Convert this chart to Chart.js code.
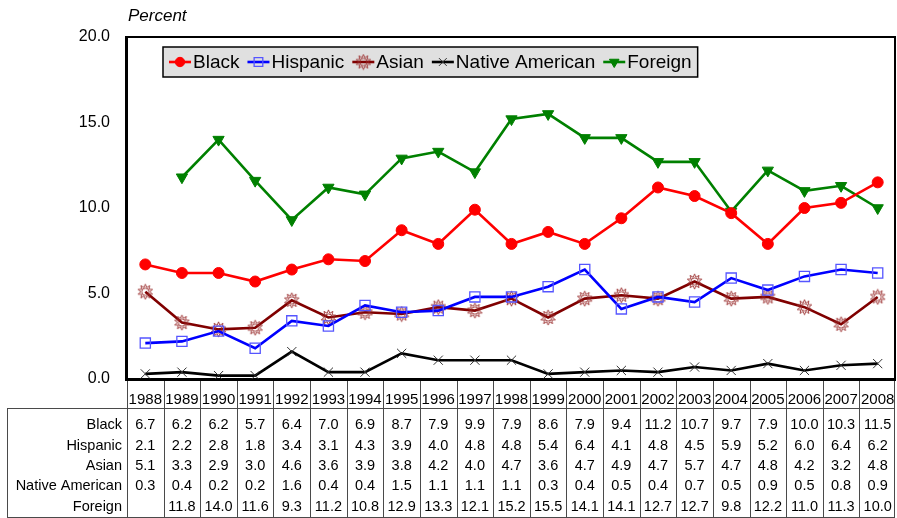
<!DOCTYPE html>
<html>
<head>
<meta charset="utf-8">
<script src="https://cdn.jsdelivr.net/npm/chart.js@4/dist/chart.umd.min.js"></script>
<style>
  html, body { margin: 0; padding: 0; background: #fff; }
  #wrap { width: 897px; height: 518px; }
</style>
</head>
<body>
<div id="wrap"><canvas id="c" width="897" height="518"></canvas></div>
<script>
// Rates by group, 1988-2008 (percent)
const years = ['1988','1989','1990','1991','1992','1993','1994','1995','1996','1997','1998',
               '1999','2000','2001','2002','2003','2004','2005','2006','2007','2008'];
const black    = [6.7, 6.2, 6.2, 5.7, 6.4, 7.0, 6.9, 8.7, 7.9, 9.9, 7.9, 8.6, 7.9, 9.4, 11.2, 10.7, 9.7, 7.9, 10.0, 10.3, 11.5];
const hispanic = [2.1, 2.2, 2.8, 1.8, 3.4, 3.1, 4.3, 3.9, 4.0, 4.8, 4.8, 5.4, 6.4, 4.1, 4.8, 4.5, 5.9, 5.2, 6.0, 6.4, 6.2];
const asian    = [5.1, 3.3, 2.9, 3.0, 4.6, 3.6, 3.9, 3.8, 4.2, 4.0, 4.7, 3.6, 4.7, 4.9, 4.7, 5.7, 4.7, 4.8, 4.2, 3.2, 4.8];
const nativeAm = [0.3, 0.4, 0.2, 0.2, 1.6, 0.4, 0.4, 1.5, 1.1, 1.1, 1.1, 0.3, 0.4, 0.5, 0.4, 0.7, 0.5, 0.9, 0.5, 0.8, 0.9];
const foreign  = [null, 11.8, 14.0, 11.6, 9.3, 11.2, 10.8, 12.9, 13.3, 12.1, 15.2, 15.5, 14.1, 14.1, 12.7, 12.7, 9.8, 12.2, 11.0, 11.3, 10.0];
const seriesNames = ['Black', 'Hispanic', 'Asian', 'Native American', 'Foreign'];
const yMin = 0, yMax = 20, yStep = 5;

const FONT = '"Liberation Sans", Arial, Helvetica, sans-serif';

// Sun-shaped marker: spiked outline with an inner ring
function sunMarker(color) {
  const s = 17, c = s / 2, cv = document.createElement('canvas');
  cv.width = s; cv.height = s;
  const g = cv.getContext('2d');
  g.strokeStyle = color; g.lineWidth = 0.9;
  g.beginPath();
  const spikes = 10;
  for (let i = 0; i <= spikes * 2; i++) {
    const r = i % 2 === 0 ? 7.6 : 4.4;
    const a = i * Math.PI / spikes - Math.PI / 2;
    const px = c + r * Math.cos(a), py = c + r * Math.sin(a);
    i === 0 ? g.moveTo(px, py) : g.lineTo(px, py);
  }
  g.closePath(); g.stroke();
  g.beginPath(); g.arc(c, c, 3.6, 0, Math.PI * 2); g.stroke();
  return cv;
}

const datasets = [
  { label: seriesNames[0], data: black, borderColor: '#ff0000', backgroundColor: '#ff0000',
    pointStyle: 'circle', pointRadius: 5.5, pointBorderWidth: 1, pointBorderColor: '#ff0000' },
  { label: seriesNames[1], data: hispanic, borderColor: '#0000ff', backgroundColor: 'rgba(0,0,0,0)',
    pointStyle: 'rect', pointRadius: 7.2, pointBorderWidth: 1.3, pointBorderColor: '#5555ff' },
  { label: seriesNames[2], data: asian, borderColor: '#800000', backgroundColor: 'rgba(0,0,0,0)',
    pointStyle: sunMarker('#9a2e2e'), pointRadius: 8, pointBorderWidth: 1, pointBorderColor: '#9a2e2e' },
  { label: seriesNames[3], data: nativeAm, borderColor: '#000000', backgroundColor: 'rgba(0,0,0,0)',
    pointStyle: 'crossRot', pointRadius: 6.5, pointBorderWidth: 1, pointBorderColor: '#333333' },
  { label: seriesNames[4], data: foreign, borderColor: '#008000', backgroundColor: '#008000',
    pointStyle: 'triangle', pointRotation: 180, pointRadius: 6.5, pointBorderWidth: 1, pointBorderColor: '#008000' }
].map(d => Object.assign({ borderWidth: 2.6, fill: false, tension: 0, spanGaps: false,
  pointHoverRadius: d.pointRadius }, d));

// Frame, "Percent" caption, legend box and the data table under the plot
const decorations = {
  id: 'decorations',
  beforeDatasetsDraw(chart) {
    const ctx = chart.ctx, a = chart.chartArea;
    ctx.save();
    ctx.strokeStyle = '#000';
    ctx.lineWidth = 2;
    ctx.beginPath();
    ctx.moveTo(a.left, a.top); ctx.lineTo(a.right - 1, a.top); ctx.lineTo(a.right - 1, a.bottom);
    ctx.stroke();
    ctx.lineWidth = 3;
    ctx.beginPath();
    ctx.moveTo(a.left - 0.5, a.top - 1); ctx.lineTo(a.left - 0.5, a.bottom);
    ctx.moveTo(a.left - 2, a.bottom + 0.5); ctx.lineTo(a.right, a.bottom + 0.5);
    ctx.stroke();

    ctx.fillStyle = '#000';
    ctx.font = 'italic 17px ' + FONT;
    ctx.textAlign = 'left'; ctx.textBaseline = 'alphabetic';
    ctx.fillText('Percent', a.left + 1, 21);
    ctx.restore();
  },
  afterDatasetsDraw(chart) {
    const ctx = chart.ctx, a = chart.chartArea, xs = chart.scales.x;
    const H = Chart.helpers;
    ctx.save();

    // legend
    ctx.font = '19px ' + FONT;
    const boxL = 163, boxT = 47, boxH = 30, lineLen = 22;
    let x = boxL + 6;
    const items = [];
    chart.data.datasets.forEach(ds => {
      const tw = ctx.measureText(ds.label).width;
      items.push({ ds, x, tw });
      x += lineLen + 2 + tw + 8;
    });
    const boxW = x - boxL - 2;
    ctx.fillStyle = '#e0e0e0';
    ctx.fillRect(boxL, boxT, boxW, boxH);
    ctx.strokeStyle = '#000'; ctx.lineWidth = 1.5;
    ctx.strokeRect(boxL, boxT, boxW, boxH);
    const cy = boxT + boxH / 2;
    items.forEach(it => {
      const ds = it.ds;
      ctx.strokeStyle = ds.borderColor; ctx.lineWidth = 2.6;
      ctx.beginPath(); ctx.moveTo(it.x, cy); ctx.lineTo(it.x + lineLen, cy); ctx.stroke();
      ctx.fillStyle = ds.backgroundColor; ctx.strokeStyle = ds.pointBorderColor;
      ctx.lineWidth = ds.pointBorderWidth;
      H.drawPoint(ctx, { pointStyle: ds.pointStyle, radius: ds.pointRadius * 0.85,
        rotation: ds.pointRotation || 0, borderWidth: ds.pointBorderWidth }, it.x + lineLen / 2, cy);
      ctx.fillStyle = '#000';
      ctx.textAlign = 'left'; ctx.textBaseline = 'middle';
      ctx.fillText(ds.label, it.x + lineLen + 2, cy + 1);
    });

    // data table
    const n = years.length;
    const colW = (a.right - a.left) / n;
    const tableL = 7, tableTop = 408, tableBot = 517;
    ctx.strokeStyle = '#4a4a4a'; ctx.lineWidth = 1;
    ctx.beginPath();
    for (let i = 0; i < n; i++) {
      const bx = Math.round(xs.getPixelForValue(i) - colW / 2) + 0.5;
      ctx.moveTo(bx, a.bottom + 2); ctx.lineTo(bx, tableBot);
    }
    ctx.moveTo(a.right - 1.5, a.bottom + 2); ctx.lineTo(a.right - 1.5, tableBot);
    ctx.moveTo(tableL, tableTop + 0.5); ctx.lineTo(a.right - 1, tableTop + 0.5);
    ctx.moveTo(tableL + 0.5, tableTop); ctx.lineTo(tableL + 0.5, tableBot);
    ctx.moveTo(tableL, tableBot + 0.5); ctx.lineTo(a.right - 1, tableBot + 0.5);
    ctx.stroke();

    ctx.fillStyle = '#000';
    ctx.textBaseline = 'middle';
    ctx.textAlign = 'center';
    ctx.font = '15px ' + FONT;
    years.forEach((yr, i) => ctx.fillText(yr, xs.getPixelForValue(i), 400));

    const rows = [black, hispanic, asian, nativeAm, foreign];
    const rowY = [425, 445.5, 465.5, 486, 507];
    ctx.font = '14.5px ' + FONT;
    rows.forEach((vals, r) => {
      ctx.textAlign = 'right';
      ctx.fillText(seriesNames[r], a.left - 5, rowY[r]);
      ctx.textAlign = 'center';
      vals.forEach((v, i) => {
        if (v === null || v === undefined) return;
        ctx.fillText(v.toFixed(1), xs.getPixelForValue(i), rowY[r]);
      });
    });
    ctx.restore();
  }
};

new Chart(document.getElementById('c'), {
  type: 'line',
  data: { labels: years, datasets },
  options: {
    responsive: false,
    animation: false,
    events: [],
    layout: { autoPadding: false, padding: { top: 37, right: 1, bottom: 139, left: 0 } },
    plugins: { legend: { display: false }, tooltip: { enabled: false } },
    scales: {
      x: { type: 'category', offset: true, display: false },
      y: {
        min: yMin, max: yMax,
        grid: { display: false, drawTicks: false },
        border: { display: false },
        afterFit(scale) { scale.width = 127; },
        ticks: {
          stepSize: yStep, padding: 17, color: '#000',
          font: { family: FONT, size: 16 },
          callback: v => Number(v).toFixed(1)
        }
      }
    }
  },
  plugins: [decorations]
});
</script>
</body>
</html>
